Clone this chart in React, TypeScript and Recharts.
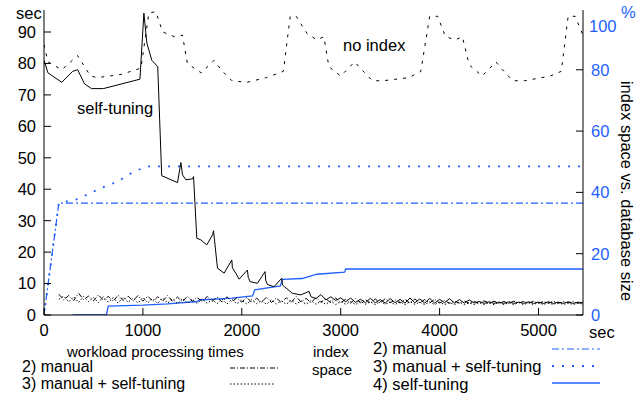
import React from "react";
import { ComposedChart, Line, XAxis, YAxis } from "recharts";

// x ticks / y ticks
const xTicks = [0, 1000, 2000, 3000, 4000, 5000];
const secTicks = [0, 10, 20, 30, 40, 50, 60, 70, 80, 90];
const pctTicks = [0, 20, 40, 60, 80];

// workload processing times, no index (sec)
const noIndexT = [0, 40, 180, 340, 470, 540, 780, 980, 1060, 1130, 1200, 1320, 1400, 1450, 1590, 1720, 1790, 1900, 2050, 2250, 2420, 2490, 2550, 2660, 2760, 2830, 2880, 3000, 3140, 3200, 3320, 3430, 3690, 3810, 3900, 3980, 4060, 4160, 4230, 4300, 4430, 4570, 4620, 4740, 4860, 5120, 5230, 5300, 5370, 5450];
const noIndexV = [86, 80.5, 78, 82.5, 76, 75.5, 76.5, 78.5, 96, 96.5, 90, 88.5, 89, 80, 77, 81, 78, 74.5, 74, 75.5, 77.5, 95, 95, 89.5, 87.5, 88.5, 79, 76, 80.5, 78.5, 74.5, 74.5, 75.5, 77.5, 95, 95, 88.5, 87.5, 88.5, 79.5, 76, 80.5, 78.5, 74.5, 74.5, 76, 77.5, 95, 95, 89];

// workload processing times, self-tuning (sec)
const selfT = [0, 40, 180, 290, 340, 410, 480, 600, 970, 1010, 1040, 1090, 1150, 1190, 1350, 1384, 1400, 1434, 1502, 1512, 1545, 1586, 1646, 1704, 1714, 1754, 1821, 1899, 1905, 1939, 1973, 2057, 2065, 2084, 2158, 2235, 2242, 2259, 2326, 2404, 2412, 2431, 2512, 2596, 2680, 2700,
  2750, 2800, 2850, 2900, 2950, 3000, 3050, 3100, 3150, 3200, 3250, 3300, 3350, 3400, 3450, 3500, 3550, 3600, 3650, 3700, 3750, 3800, 3850, 3900, 3950, 4000, 4050, 4100, 4150, 4200, 4250, 4300, 4350, 4400, 4450, 4500, 4550, 4600, 4650, 4700, 4750, 4800, 4850, 4900, 4950, 5000, 5050, 5100, 5150, 5200, 5250, 5300, 5350, 5400, 5450];
const selfV = [81, 77, 74, 77.5, 78, 73.5, 72, 72, 75, 96, 86.5, 81, 79, 44.3, 42.1, 48.5, 44.6, 43, 43.3, 44, 24.4, 23.9, 22.3, 25.5, 26.8, 14.9, 13.3, 17.5, 15, 13.3, 11.4, 14.3, 12, 10.6, 10.1, 13.8, 11, 9.7, 9, 11.7, 9.5, 9, 6.9, 6.4, 7.5, 5.8,
  5.2, 6.5, 4.8, 5.8, 4.6, 5.5, 4.2, 5.4, 4.0, 5.0, 3.9, 5.3, 3.9, 4.9, 3.8, 5.2, 3.9, 5.0, 3.8, 5.4, 3.9, 5.1, 3.8, 5.3, 3.8, 5.0, 3.9, 5.2, 3.8, 4.9, 3.8, 4.8, 3.8, 4.3, 3.7, 4.2, 3.7, 4.1, 3.7, 4.2, 3.7, 4.1, 3.7, 4.2, 3.7, 4.1, 3.7, 4.2, 3.7, 4.1, 3.7, 4.2, 3.7, 4.1, 3.8];

// manual / manual + self-tuning processing times (sec)
const noiseT = [150, 200, 250, 300, 350, 400, 450, 500, 550, 600, 650, 700, 750, 800, 850, 900, 950, 1000,
  1050, 1100, 1150, 1200, 1250, 1300, 1350, 1400, 1450, 1500, 1550, 1600, 1650, 1700, 1750, 1800, 1850, 1900, 1950, 2000,
  2050, 2100, 2150, 2200, 2250, 2300, 2350, 2400, 2450, 2500, 2550, 2600, 2650, 2700, 2750, 2800, 2850, 2900, 2950, 3000,
  3050, 3100, 3150, 3200, 3250, 3300, 3350, 3400, 3450, 3500, 3550, 3600, 3650, 3700, 3750, 3800, 3850, 3900, 3950, 4000,
  4050, 4100, 4150, 4200, 4250, 4300, 4350, 4400, 4450, 4500, 4550, 4600, 4650, 4700, 4750, 4800, 4850, 4900, 4950, 5000,
  5050, 5100, 5150, 5200, 5250, 5300, 5350, 5400, 5450];
const manualV = [6.6, 4.8, 6.2, 4.6, 6.9, 4.9, 6.0, 4.5, 6.4, 4.7, 5.9, 4.4, 6.3, 4.6, 6.0, 4.5, 6.2, 4.4,
  6.0, 4.3, 5.8, 4.4, 6.2, 4.3, 5.7, 4.2, 6.0, 4.4, 5.6, 4.2, 5.9, 4.3, 5.7, 4.1, 5.8, 4.2, 5.5, 4.1,
  5.6, 4.0, 5.3, 4.1, 5.7, 4.0, 5.4, 3.9, 5.5, 4.0, 5.9, 4.1, 5.3, 3.9, 5.6, 4.0, 5.2, 3.9, 5.4, 3.9,
  5.0, 3.8, 5.2, 3.9, 4.9, 3.8, 5.1, 3.8, 5.2, 3.9, 4.8, 3.8, 5.0, 3.8, 5.1, 3.9, 4.9, 3.8, 5.0, 3.8,
  4.6, 3.7, 4.4, 3.8, 4.5, 3.7, 4.3, 3.7, 4.5, 3.8, 4.4, 3.7, 4.3, 3.7, 4.4, 3.8, 4.3, 3.7, 4.4, 3.7,
  4.3, 3.7, 4.4, 3.7, 4.3, 3.8, 4.3, 3.7, 4.2];
const manualSelfV = [5.0, 6.0, 4.2, 5.8, 4.0, 5.9, 4.3, 5.6, 3.9, 5.8, 4.1, 5.5, 3.8, 5.7, 4.0, 5.4, 3.8, 5.6,
  3.9, 5.3, 3.7, 5.4, 3.8, 5.1, 3.6, 5.3, 3.7, 5.0, 3.6, 5.2, 3.7, 4.9, 3.6, 5.1, 3.5, 5.0, 3.6, 4.8,
  3.5, 4.9, 3.6, 4.6, 3.4, 4.8, 3.5, 4.5, 3.4, 4.7, 3.5, 4.5, 3.4, 4.6, 3.4, 4.4, 3.4, 4.5, 3.3, 4.3,
  3.4, 4.3, 3.3, 4.4, 3.4, 4.2, 3.3, 4.3, 3.4, 4.1, 3.3, 4.3, 3.3, 4.2, 3.4, 4.1, 3.3, 4.2, 3.3, 4.1,
  3.3, 4.0, 3.3, 4.1, 3.3, 3.9, 3.3, 4.0, 3.3, 3.9, 3.3, 4.0, 3.3, 3.9, 3.3, 4.0, 3.3, 3.9, 3.3, 4.0,
  3.3, 3.9, 3.3, 4.0, 3.3, 3.9, 3.3, 3.9, 3.4];

// index space vs. database size (%)
const idxManualT = [0, 150, 5450];
const idxManualV = [0, 36.5, 36.5];
const idxManualSelfT = [0, 150, 340, 575, 744, 909, 1050, 5450];
const idxManualSelfV = [0, 36.5, 37.8, 41.4, 43.5, 46.8, 48.5, 48.5];
const idxSelfT = [290, 630, 650, 1000, 1250, 1550, 1570, 1900, 2110, 2130, 2390, 2410, 2610, 2760, 3040, 3050, 5450];
const idxSelfV = [0, 0, 2.9, 3.2, 3.6, 4.4, 4.9, 5.5, 6.2, 8.2, 9.5, 11.6, 11.9, 13.3, 14, 15, 15];

const zip = (t: number[], v: number[]) => t.map((x, i) => ({ t: x, v: v[i] }));

const BLUE = "#1f5fff";
const FONT = "'Liberation Sans', Arial, sans-serif";

const txt = (s: string, left: number, top: number, size: number, color = "#000") => (
  <div
    style={{
      position: "absolute",
      left,
      top: top - (size * 0.85) / 2,
      fontSize: size,
      lineHeight: `${size * 0.85}px`,
      color,
      whiteSpace: "nowrap",
    }}
  >
    {s}
  </div>
);

export default function App() {
  return (
    <div
      style={{
        position: "absolute",
        left: 0,
        top: 0,
        width: 641,
        height: 398,
        background: "#fff",
        fontFamily: FONT,
        overflow: "hidden",
      }}
    >
      <ComposedChart width={641} height={340} margin={{ top: 10, right: 0, bottom: 0, left: 0 }}>
        <XAxis
          xAxisId="b"
          dataKey="t"
          type="number"
          domain={[0, 5450]}
          ticks={xTicks}
          height={25}
          tickSize={-7}
          tickMargin={16}
          stroke="#000"
          tick={{ fill: "#000", fontSize: 16.5, fontFamily: FONT }}
          allowDataOverflow
        />
        <XAxis
          xAxisId="top"
          orientation="top"
          type="number"
          domain={[0, 5450]}
          ticks={xTicks}
          height={0}
          tickSize={-7}
          tick={false}
          stroke="#000"
        />
        <YAxis
          yAxisId="sec"
          type="number"
          width={44}
          domain={[0, 97]}
          ticks={secTicks}
          tickSize={-7}
          tickMargin={15}
          stroke="#000"
          tick={{ fill: "#000", fontSize: 16.5, fontFamily: FONT }}
          allowDataOverflow
        />
        <YAxis
          yAxisId="mirror"
          orientation="right"
          type="number"
          width={0}
          domain={[0, 97]}
          ticks={secTicks}
          tickSize={-7}
          tick={false}
          stroke="#000"
        />
        <YAxis
          yAxisId="pct"
          orientation="right"
          type="number"
          width={58}
          domain={[0, 99.5]}
          ticks={pctTicks}
          tickSize={-7}
          tickMargin={15}
          stroke="#000"
          tick={{ fill: BLUE, fontSize: 16.5, fontFamily: FONT }}
          allowDataOverflow
        />

        <Line xAxisId="b" yAxisId="pct" data={zip(idxManualT, idxManualV)} dataKey="v" stroke={BLUE} strokeWidth={1.2} strokeDasharray="7 3 2 3" dot={false} isAnimationActive={false} />
        <Line xAxisId="b" yAxisId="pct" data={zip(idxManualSelfT, idxManualSelfV)} dataKey="v" stroke={BLUE} strokeWidth={1.8} strokeDasharray="2 8" dot={false} isAnimationActive={false} />
        <Line xAxisId="b" yAxisId="pct" data={zip(idxSelfT, idxSelfV)} dataKey="v" stroke={BLUE} strokeWidth={1.3} dot={false} isAnimationActive={false} />

        <Line xAxisId="b" yAxisId="sec" data={zip(noIndexT, noIndexV)} dataKey="v" stroke="#000" strokeWidth={1} strokeDasharray="3 6" dot={false} isAnimationActive={false} />
        <Line xAxisId="b" yAxisId="sec" data={zip(noiseT, manualV)} dataKey="v" stroke="#000" strokeWidth={1} strokeDasharray="5 2 1 2" dot={false} isAnimationActive={false} />
        <Line xAxisId="b" yAxisId="sec" data={zip(noiseT, manualSelfV)} dataKey="v" stroke="#000" strokeWidth={1} strokeDasharray="1.5 2" dot={false} isAnimationActive={false} />
        <Line xAxisId="b" yAxisId="sec" data={zip(selfT, selfV)} dataKey="v" stroke="#000" strokeWidth={1} dot={false} isAnimationActive={false} />
      </ComposedChart>

      {/* axis units and annotations */}
      {txt("sec", 16, 13, 16.5)}
      {txt("sec", 589, 332, 16.5)}
      {txt("%", 621, 12, 16.5, BLUE)}
      {txt("100", 589, 26, 16.5, BLUE)}
      {txt("no index", 343, 45, 16.5)}
      {txt("self-tuning", 77, 108, 16.5)}
      <div
        style={{
          position: "absolute",
          left: 627,
          top: 191,
          fontSize: 16.5,
          lineHeight: "16.5px",
          whiteSpace: "nowrap",
          transform: "translate(-50%, -50%) rotate(90deg)",
        }}
      >
        index space vs. database size
      </div>

      {/* legend */}
      {txt("workload processing times", 67, 352, 15)}
      {txt("2) manual", 22, 366.5, 16)}
      {txt("3) manual + self-tuning", 22, 383.5, 16)}
      {txt("index", 313, 352, 15)}
      {txt("space", 312, 370, 15)}
      {txt("2) manual", 373, 348, 16.5)}
      {txt("3) manual + self-tuning", 373, 366, 16.5)}
      {txt("4) self-tuning", 373, 384, 16.5)}
      <svg width={641} height={398} style={{ position: "absolute", left: 0, top: 0, pointerEvents: "none" }}>
        <line x1={230} y1={368} x2={278} y2={368} stroke="#000" strokeWidth={1} strokeDasharray="5 2 1 2" />
        <line x1={230} y1={384} x2={274} y2={384} stroke="#000" strokeWidth={1} strokeDasharray="1.5 2" />
        <line x1={552} y1={349} x2={600} y2={349} stroke={BLUE} strokeWidth={1.2} strokeDasharray="7 3 2 3" />
        <line x1={552} y1={366} x2={596} y2={366} stroke={BLUE} strokeWidth={1.8} strokeDasharray="2 8" />
        <line x1={552} y1={383} x2={600} y2={383} stroke={BLUE} strokeWidth={1.3} />
      </svg>
    </div>
  );
}
